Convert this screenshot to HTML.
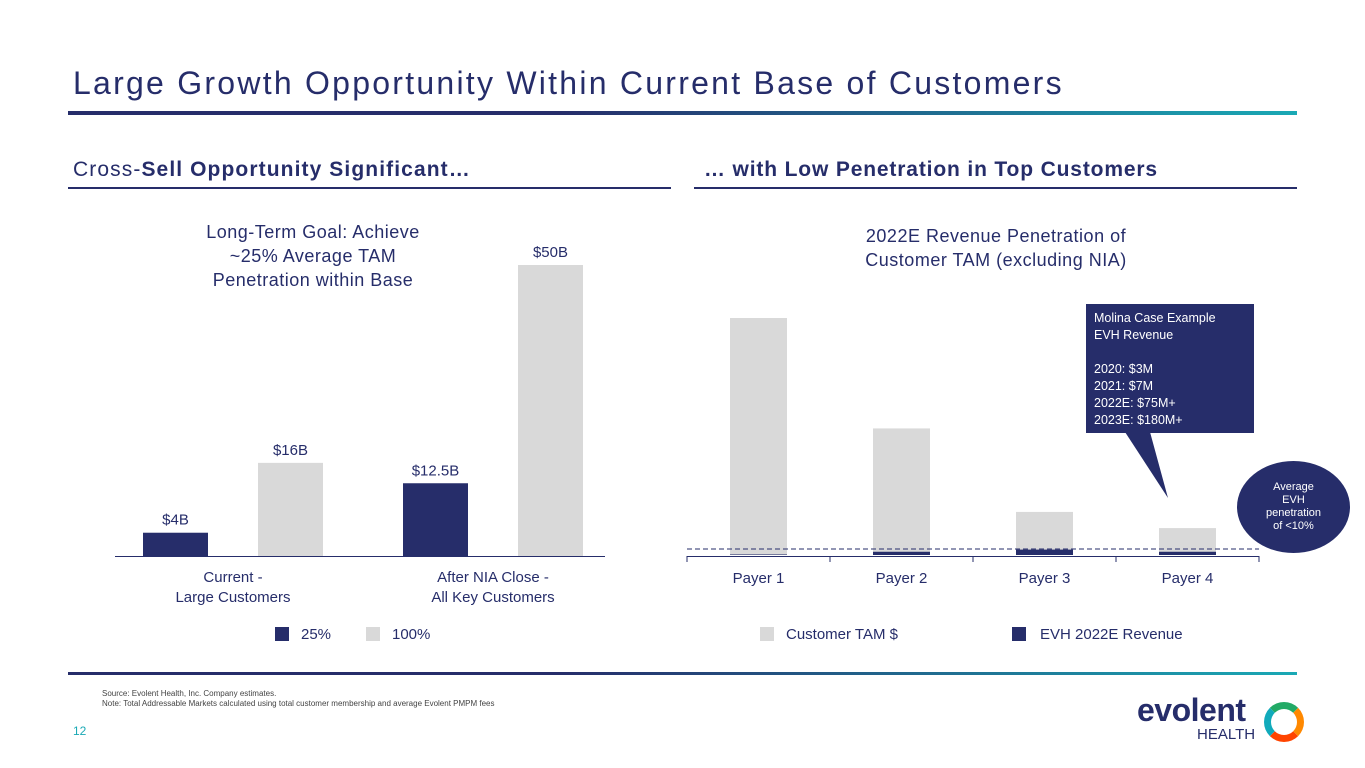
<!DOCTYPE html>
<html><head><meta charset="utf-8"><style>
body{margin:0;width:1365px;height:768px;background:#fff;font-family:"Liberation Sans",sans-serif;position:relative;overflow:hidden}
.a{position:absolute}
</style></head><body>
<div class="a" style="left:73px;top:65px;font-size:32px;color:#262d6a;letter-spacing:2.25px;white-space:nowrap">Large Growth Opportunity Within Current Base of Customers</div>
<div class="a" style="left:68px;top:111px;width:1229px;height:4px;background:linear-gradient(90deg,#262d6a 0%,#262d6a 40%,#1aa9b5 100%)"></div>
<div class="a" style="left:73px;top:158px;font-size:21px;color:#262d6a;letter-spacing:1.1px;white-space:nowrap">Cross-<b>Sell Opportunity Significant…</b></div>
<div class="a" style="left:68px;top:187px;width:603px;height:2px;background:#262d6a"></div>
<div class="a" style="left:704px;top:158px;font-size:21px;color:#262d6a;font-weight:bold;letter-spacing:0.85px;white-space:nowrap">… with Low Penetration in Top Customers</div>
<div class="a" style="left:694px;top:187px;width:603px;height:2px;background:#262d6a"></div>
<div class="a" style="left:183px;top:220px;width:260px;text-align:center;font-size:18px;line-height:24px;color:#262d6a;letter-spacing:0.5px">Long-Term Goal: Achieve ~25% Average TAM Penetration within Base</div>
<div class="a" style="left:836px;top:224px;width:320px;text-align:center;font-size:18px;line-height:24px;color:#262d6a;letter-spacing:0.5px">2022E Revenue Penetration of Customer TAM (excluding NIA)</div>
<svg class="a" style="left:0;top:0" width="1365" height="768" id="chart"></svg>
<div class="a" style="left:1086px;top:304px;width:168px;height:129px;background:#262d6a;color:#fff;font-size:12.5px;line-height:17px;padding:6px 0 0 8px;box-sizing:border-box">Molina Case Example<br>EVH Revenue<br><br>2020: $3M<br>2021: $7M<br>2022E: $75M+<br>2023E: $180M+</div>
<div class="a" style="left:1237px;top:461px;width:113px;height:92px;border-radius:50%;background:#262d6a;color:#fff;font-size:11px;line-height:13px;text-align:center;display:flex;align-items:center;justify-content:center">Average<br>EVH<br>penetration<br>of &lt;10%</div>
<div class="a" style="left:275px;top:626px;font-size:15px;color:#262d6a"><span style="display:inline-block;width:14px;height:14px;background:#262d6a;vertical-align:-2px;margin-right:12px"></span>25%</div>
<div class="a" style="left:366px;top:626px;font-size:15px;color:#262d6a"><span style="display:inline-block;width:14px;height:14px;background:#d9d9d9;vertical-align:-2px;margin-right:12px"></span>100%</div>
<div class="a" style="left:760px;top:626px;font-size:15px;color:#262d6a"><span style="display:inline-block;width:14px;height:14px;background:#d9d9d9;vertical-align:-2px;margin-right:12px"></span>Customer TAM $</div>
<div class="a" style="left:1012px;top:626px;font-size:15px;color:#262d6a"><span style="display:inline-block;width:14px;height:14px;background:#262d6a;vertical-align:-2px;margin-right:14px"></span>EVH 2022E Revenue</div>
<div class="a" style="left:68px;top:672px;width:1229px;height:3px;background:linear-gradient(90deg,#262d6a 0%,#262d6a 40%,#1aa9b5 100%)"></div>
<div class="a" style="left:102px;top:689px;font-size:8px;line-height:10px;color:#444">Source: Evolent Health, Inc. Company estimates.<br>Note: Total Addressable Markets calculated using total customer membership and average Evolent PMPM fees</div>
<div class="a" style="left:73px;top:724px;font-size:12px;color:#1aa9b5">12</div>
<div class="a" style="left:1137px;top:698px;width:170px;height:48px">
<div class="a" style="left:0;top:-6px;font-size:32px;font-weight:bold;color:#262d6a;letter-spacing:-0.5px">evolent</div>
<div class="a" style="left:60px;top:28px;font-size:15px;color:#262d6a">HEALTH</div>
<div class="a" style="left:127px;top:4px;width:26px;height:26px;border-radius:50%;border:7px solid #3a9;border-color:#2a6 #f80 #f40 #1ab"></div>
</div>
<script>
const leftCats=["Current -|Large Customers","After NIA Close -|All Key Customers"];
const leftPct25=[4,12.5];
const leftPct100=[16,50];
const leftLabels25=["$4B","$12.5B"];
const leftLabels100=["$16B","$50B"];
const payers=["Payer 1","Payer 2","Payer 3","Payer 4"];
const tam=[8.8,4.7,1.6,1.0];
const evh=[0.02,0.12,0.2,0.12];
const svg=document.getElementById('chart');
const NS='http://www.w3.org/2000/svg';
function mk(t,a,txt){const e=document.createElementNS(NS,t);for(const k in a)e.setAttribute(k,a[k]);if(txt!==undefined)e.textContent=txt;svg.appendChild(e);return e;}
const lBase=556, lScale=291/50;
const ly=v=>lBase-v*lScale;
let ax=mk('line',{x1:115,x2:605,y1:lBase+0.5,y2:lBase+0.5,stroke:'#262d6a','stroke-width':1});

leftCats.forEach((c,i)=>{
  const gx=143+i*260;
  let b=mk('rect',{x:gx,y:ly(leftPct25[i]),width:65,height:leftPct25[i]*lScale,fill:'#262d6a'});
  
  let b2=mk('rect',{x:gx+115,y:ly(leftPct100[i]),width:65,height:leftPct100[i]*lScale,fill:'#d9d9d9'});
  
  let t=mk('text',{x:gx+32.5,y:ly(leftPct25[i])-8,'text-anchor':'middle','font-size':15,fill:'#262d6a'},leftLabels25[i]);
  
  let t2=mk('text',{x:gx+147.5,y:ly(leftPct100[i])-8,'text-anchor':'middle','font-size':15,fill:'#262d6a'},leftLabels100[i]);
  
  c.split('|').forEach((ln,j)=>{
    let ct=mk('text',{x:gx+90,y:582+j*20,'text-anchor':'middle','font-size':15,fill:'#262d6a'},ln);
    
  });
});
const rBase=555, rScale=237/8.8, rx0=687, rStep=143;
const ry=v=>rBase-v*rScale;
let rax=mk('line',{x1:rx0,x2:rx0+4*rStep,y1:556.5,y2:556.5,stroke:'#262d6a','stroke-width':1});

for(let i=0;i<=4;i++){let tk=mk('line',{x1:rx0+i*rStep,x2:rx0+i*rStep,y1:556,y2:562,stroke:'#262d6a'});}
payers.forEach((p,i)=>{
  const cx=rx0+rStep*(i+0.5);
  let b=mk('rect',{x:cx-28.5,y:ry(tam[i]),width:57,height:tam[i]*rScale,fill:'#d9d9d9'});
  
  let d=mk('rect',{x:cx-28.5,y:ry(evh[i]),width:57,height:evh[i]*rScale,fill:'#262d6a'});
  
  let t=mk('text',{x:cx,y:583,'text-anchor':'middle','font-size':15,fill:'#262d6a'},p);
  
});
let dl=mk('line',{x1:rx0,x2:rx0+4*rStep,y1:549,y2:549,stroke:'#262d6a','stroke-dasharray':'5,3'});

let cp=mk('polygon',{points:'1125,432 1150,432 1168,498',fill:'#262d6a'});

</script>
</body></html>
